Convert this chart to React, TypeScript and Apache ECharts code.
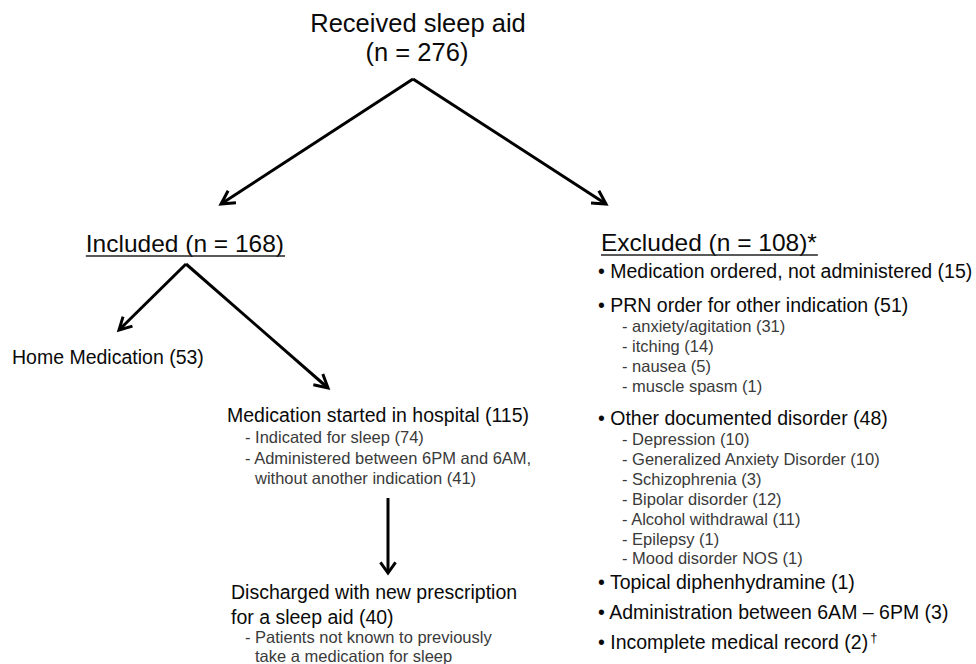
import React, { useEffect, useRef } from "react";
import * as echarts from "echarts";

// ---------- data ----------
const rootLabel = "Received sleep aid";
const rootCount = 276;
const includedLabel = "Included";
const includedCount = 168;
const excludedLabel = "Excluded";
const excludedCount = 108;

const homeMedLabel = "Home Medication";
const homeMedCount = 53;

const hospitalLabel = "Medication started in hospital";
const hospitalCount = 115;
const hospitalSubLabels = ["Indicated for sleep", "Administered between 6PM and 6AM,\nwithout another indication"];
const hospitalSubCounts = [74, 41];

const dischargedLabel = "Discharged with new prescription\nfor a sleep aid";
const dischargedCount = 40;
const dischargedSubLabels = ["Patients not known to previously\ntake a medication for sleep"];

const excludedReasons = [
  "Medication ordered, not administered",
  "PRN order for other indication",
  "Other documented disorder",
  "Topical diphenhydramine",
  "Administration between 6AM \u2013 6PM",
  "Incomplete medical record",
];
const excludedCounts = [15, 51, 48, 1, 3, 2];
const excludedSuffix = ["", "", "", "", "", "\u2020"];

const prnSubLabels = ["anxiety/agitation", "itching", "nausea", "muscle spasm"];
const prnSubCounts = [31, 14, 5, 1];

const disorderSubLabels = [
  "Depression",
  "Generalized Anxiety Disorder",
  "Schizophrenia",
  "Bipolar disorder",
  "Alcohol withdrawal",
  "Epilepsy",
  "Mood disorder NOS",
];
const disorderSubCounts = [10, 10, 3, 12, 11, 1, 1];

// ---------- layout / styles ----------
const FONT = "'Liberation Sans', Arial, Helvetica, sans-serif";
const MAIN = `19.5px ${FONT}`;
const SUB = `16.5px ${FONT}`;
const HEAD = `24.5px ${FONT}`;
const TITLE = `25.5px ${FONT}`;
const BLACK = "#0a0a0a";
const GRAY = "#3a3a3a";

function txt(text: string, x: number, y: number, font: string, fill = BLACK, align = "left") {
  return {
    type: "text",
    x,
    y,
    silent: true,
    style: { text, x: 0, y: 0, font, fill, align, verticalAlign: "middle" },
  };
}

function arrow(x1: number, y1: number, x2: number, y2: number, head = 15, spread = 0.5, w = 3) {
  const a = Math.atan2(y2 - y1, x2 - x1);
  const p1 = [x2 - head * Math.cos(a - spread), y2 - head * Math.sin(a - spread)];
  const p2 = [x2 - head * Math.cos(a + spread), y2 - head * Math.sin(a + spread)];
  const st = { stroke: "#000", lineWidth: w, fill: null, lineJoin: "miter", lineCap: "butt" };
  return [
    { type: "polyline", silent: true, shape: { points: [[x1, y1], [x2, y2]] }, style: st },
    { type: "polyline", silent: true, shape: { points: [p1, [x2, y2], p2] }, style: st },
  ];
}

function subLines(labels: string[], counts: (number | null)[]) {
  const out: { text: string; indent: boolean }[] = [];
  labels.forEach((l, i) => {
    const parts = l.split("\n");
    parts.forEach((p, j) => {
      const last = j === parts.length - 1;
      const c = counts[i];
      out.push({ text: (j === 0 ? "- " : "") + p + (last && c != null ? ` (${c})` : ""), indent: j > 0 });
    });
  });
  return out;
}

function textWidth(t: string, font: string) {
  const f = (echarts as any).format;
  if (f && f.getTextRect) return f.getTextRect(t, font).width;
  return t.length * 10;
}

function buildGraphics() {
  const g: any[] = [];
  // root
  g.push(txt(rootLabel, 418, 23, TITLE, BLACK, "center"));
  g.push(txt(`(n = ${rootCount})`, 417, 52, TITLE, BLACK, "center"));
  g.push(...arrow(413, 79, 221, 204));
  g.push(...arrow(413, 79, 606, 204));

  // headers with underline
  const incText = `${includedLabel} (n = ${includedCount})`;
  const excText = `${excludedLabel} (n = ${excludedCount})*`;
  const incW = textWidth(incText, HEAD);
  const excW = textWidth(excText, HEAD);
  g.push(txt(incText, 284, 243, HEAD, BLACK, "right"));
  g.push(txt(excText, 601, 242, HEAD, BLACK, "left"));
  g.push({ type: "line", silent: true, shape: { x1: 284 - incW, y1: 256, x2: 285, y2: 256 }, style: { stroke: "#222", lineWidth: 1.5 } });
  g.push({ type: "line", silent: true, shape: { x1: 601, y1: 255, x2: 601 + excW + 1, y2: 255 }, style: { stroke: "#222", lineWidth: 1.5 } });

  // included branch
  g.push(...arrow(186, 264, 119, 330, 14));
  g.push(...arrow(186, 264, 328, 388, 15));
  g.push(txt(`${homeMedLabel} (${homeMedCount})`, 12, 357, MAIN));

  g.push(txt(`${hospitalLabel} (${hospitalCount})`, 227, 415, MAIN));
  const hs = subLines(hospitalSubLabels, hospitalSubCounts);
  hs.forEach((s, i) => g.push(txt(s.text, s.indent ? 255 : 245, 437 + i * 20.5, SUB, GRAY)));

  g.push(...arrow(388, 498, 388, 573, 13, 0.62));

  const dl = dischargedLabel.split("\n");
  dl.forEach((l, i) => g.push(txt(l + (i === dl.length - 1 ? ` (${dischargedCount})` : ""), 231, 592 + i * 25, MAIN)));
  const ds = subLines(dischargedSubLabels, [null]);
  ds.forEach((s, i) => g.push(txt(s.text, s.indent ? 255 : 245, 637 + i * 18.5, SUB, GRAY)));

  // excluded branch
  const mainY = [271, 305, 418, 582, 612, 642];
  const subStart = [0, 326, 439, 0, 0, 0];
  const subSets: [string[], number[]][] = [[[], []], [prnSubLabels, prnSubCounts], [disorderSubLabels, disorderSubCounts], [[], []], [[], []], [[], []]];
  excludedReasons.forEach((r, i) => {
    const main = `\u2022 ${r} (${excludedCounts[i]})`;
    g.push(txt(main, 598, mainY[i], MAIN));
    if (excludedSuffix[i]) {
      const w = textWidth(main, MAIN);
      g.push(txt(excludedSuffix[i], 598 + w + 2, mainY[i] - 5, `13px ${FONT}`));
    }
    const [labs, cnts] = subSets[i];
    labs.forEach((l, j) => g.push(txt(`- ${l} (${cnts[j]})`, 622, subStart[i] + j * 19.9, SUB, GRAY)));
  });
  return g;
}

export default function App() {
  const ref = useRef<HTMLDivElement>(null);
  useEffect(() => {
    if (!ref.current) return;
    const chart = echarts.init(ref.current, null, { renderer: "svg" });
    chart.setOption({
      animation: false,
      backgroundColor: "#ffffff",
      graphic: { elements: buildGraphics() },
    });
    return () => chart.dispose();
  }, []);
  return <div ref={ref} style={{ position: "absolute", left: 0, top: 0, width: 976, height: 664 }} />;
}
